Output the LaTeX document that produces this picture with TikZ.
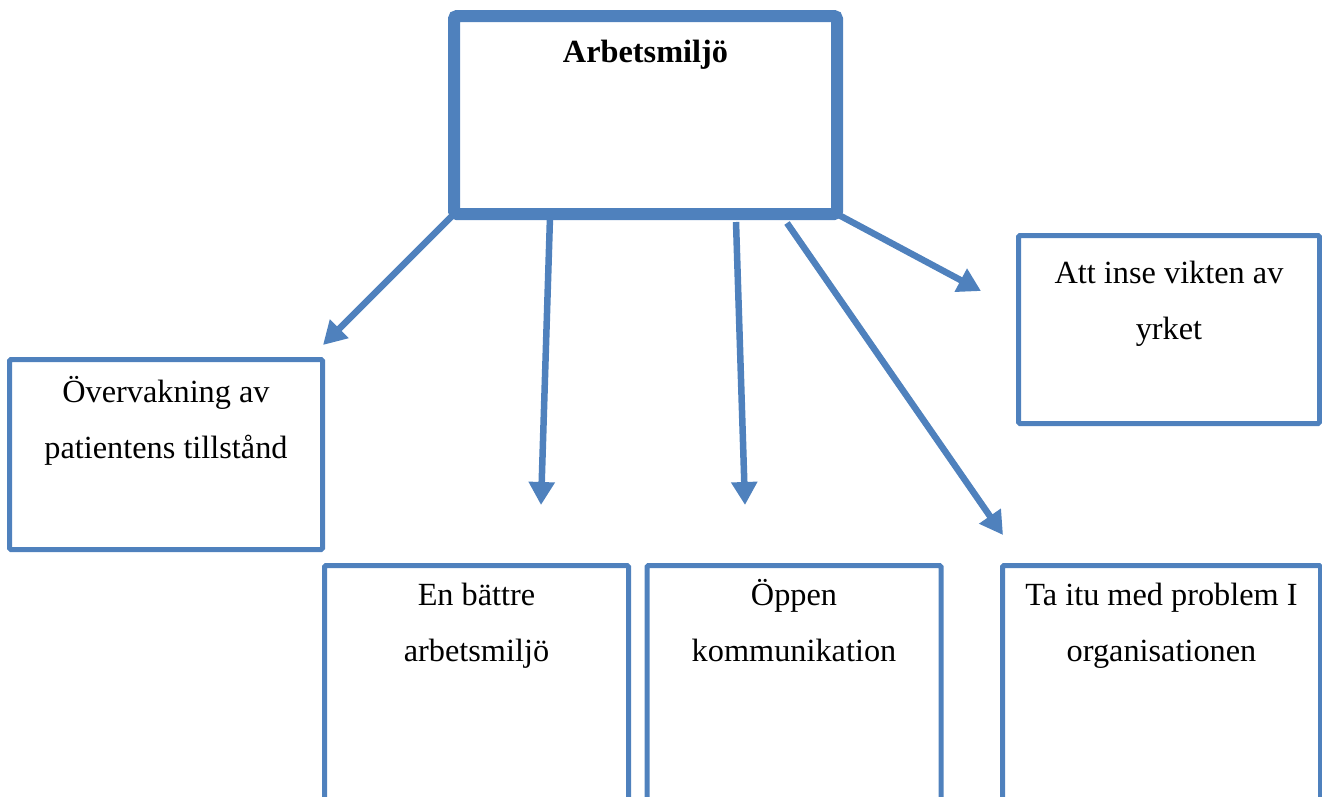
\documentclass[tikz,border=0pt]{standalone}
\usepackage{fontspec}
\setmainfont{Liberation Serif}
\usetikzlibrary{arrows.meta}
\definecolor{ob}{RGB}{79,129,189}
\begin{document}
\begin{tikzpicture}[x=1pt,y=-1pt,
  box/.style={draw=ob, line width=5pt, rounded corners=1.5pt, inner sep=0pt, outer sep=0pt, anchor=north west},
  topbox/.style={draw=ob, line width=12pt, rounded corners=3pt, inner sep=0pt, outer sep=0pt, anchor=north west},
  lbl/.style={font=\fontsize{32.3}{56}\selectfont, align=center, anchor=base, inner sep=0pt},
  arr/.style={draw=ob, line width=6.5pt, -{Triangle[width=25pt,length=23pt]}}]
\useasboundingbox (0,0) rectangle (1322,796);
\clip (0,0) rectangle (1322,796);
% boxes
\node[topbox, minimum width=383pt, minimum height=198pt] (top) at (454,16) {};
\node[box, minimum width=313pt, minimum height=190pt] (b1) at (9.5,359.5) {};
\node[box, minimum width=301pt, minimum height=188pt] (b5) at (1018.5,235.5) {};
\node[box, minimum width=304pt, minimum height=260pt] (b2) at (324.5,565.5) {};
\node[box, minimum width=294pt, minimum height=260pt] (b3) at (647,565.5) {};
\node[box, minimum width=318pt, minimum height=260pt] (b4) at (1002.5,565.5) {};
% texts (base anchor = baseline of last line)
\node[lbl, font=\fontsize{32.3}{56}\selectfont\bfseries] (ttop) at ([yshift=-46pt]top.north) {Arbetsmiljö};
\node[lbl] (t1) at ([yshift=-99pt]b1.north) {Övervakning av\\patientens tillstånd};
\node[lbl] (t5) at ([yshift=-104pt]b5.north) {Att inse vikten av\\yrket};
\node[lbl] (t2) at ([yshift=-96pt]b2.north) {En bättre\\arbetsmiljö};
\node[lbl] (t3) at ([yshift=-96pt]b3.north) {Öppen\\kommunikation};
\node[lbl] (t4) at ([yshift=-96pt]b4.north) {Ta itu med problem I\\organisationen};
% arrow ends
\coordinate (e1) at (323,345);
\coordinate (e2) at (541,505);
\coordinate (e3) at (745,505);
\coordinate (e4) at (1003,535);
\coordinate (e5) at (981,291);
% arrows
\draw[arr] (top.south west) -- (e1);
\draw[arr] ([xshift=96pt,yshift=-3pt]top.south west) -- (e2);
\draw[arr] ([xshift=282pt,yshift=-8pt]top.south west) -- (e3);
\draw[arr] ([xshift=333pt,yshift=-9pt]top.south west) -- (e4);
\draw[arr] (top.south east) -- (e5);
\end{tikzpicture}
\end{document}
